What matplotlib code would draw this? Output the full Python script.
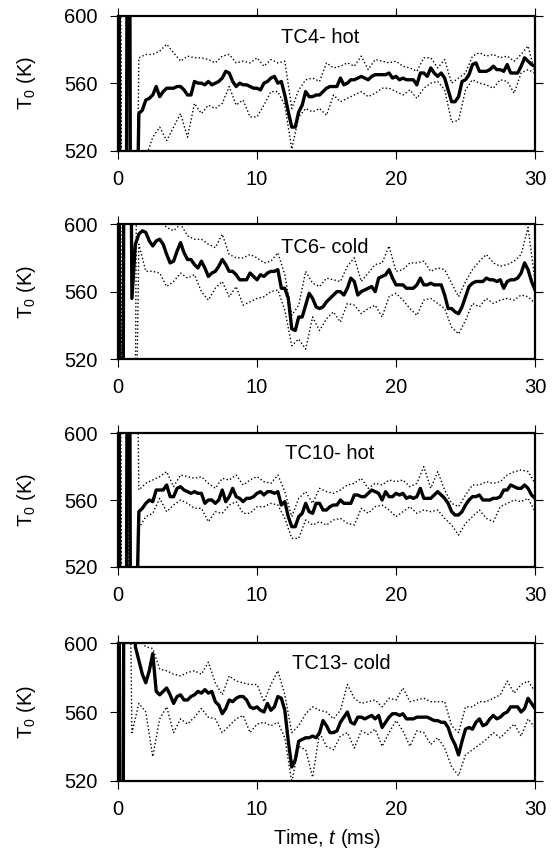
import matplotlib
matplotlib.use("Agg")
import matplotlib.pyplot as plt
import numpy as np

plt.rcParams['font.family'] = ['Liberation Sans', 'DejaVu Sans']
plt.rcParams['mathtext.fontset'] = 'custom'
plt.rcParams['mathtext.rm'] = 'Liberation Sans'
plt.rcParams['mathtext.it'] = 'Liberation Sans:italic'

# time grids (ms): mean sampled every 0.25 ms, band every 0.5 ms
time_mean = np.arange(0, 30.001, 0.25)
time_band = np.arange(0, 30.001, 0.5)

titles = ["TC4- hot", "TC6- cold", "TC10- hot", "TC13- cold"]

# mean stagnation temperature (K)
tc4_mean = [900, 100, 100, 1000, 100, 420, 542, 544,
            550, 551, 553, 558, 552, 555, 557, 557,
            557, 558, 558, 556, 553, 553, 561, 560,
            560, 559, 561, 559, 560, 561, 563, 567,
            566, 561, 558, 560, 559, 559, 558, 557,
            557, 556, 560, 561, 563, 564, 560, 561,
            553, 543, 534, 534, 543, 547, 555, 552,
            552, 553, 553, 555, 557, 558, 558, 558,
            563, 559, 560, 562, 562, 563, 564, 563,
            562, 564, 565, 565, 565, 565, 566, 563,
            564, 562, 563, 562, 562, 562, 559, 566,
            566, 564, 569, 566, 564, 566, 563, 556,
            549, 549, 552, 561, 562, 565, 571, 572,
            567, 567, 567, 568, 570, 568, 568, 567,
            571, 566, 566, 566, 570, 575, 573, 571,
            570]
tc6_mean = [900, 100, 900, 900, 556, 588, 594, 596,
            595, 590, 587, 590, 591, 588, 582, 577,
            578, 584, 589, 583, 579, 579, 576, 574,
            578, 574, 569, 571, 572, 575, 579, 576,
            572, 572, 570, 567, 567, 567, 571, 569,
            567, 570, 569, 571, 572, 572, 573, 562,
            562, 556, 538, 537, 545, 545, 552, 559,
            556, 551, 550, 551, 554, 556, 558, 560,
            560, 558, 562, 568, 566, 558, 560, 561,
            562, 563, 560, 568, 569, 570, 573, 568,
            564, 564, 564, 562, 562, 562, 564, 568,
            564, 564, 565, 564, 564, 564, 558, 550,
            550, 548, 547, 551, 557, 563, 565, 566,
            566, 566, 568, 567, 567, 566, 567, 562,
            566, 567, 567, 568, 571, 577, 573, 566,
            561]
tc10_mean = [900, 100, 100, 1000, 100, 460, 553, 555,
             558, 560, 559, 566, 566, 566, 569, 562,
             562, 567, 568, 566, 565, 564, 565, 564,
             564, 558, 560, 560, 558, 560, 566, 559,
             562, 567, 562, 561, 559, 561, 561, 562,
             564, 565, 563, 565, 565, 564, 565, 557,
             559, 550, 544, 544, 550, 552, 558, 553,
             552, 558, 558, 554, 554, 556, 557, 557,
             560, 558, 558, 558, 563, 563, 562, 562,
             564, 566, 565, 564, 560, 565, 562, 562,
             564, 563, 564, 561, 562, 561, 562, 567,
             561, 561, 561, 563, 565, 563, 561, 558,
             553, 551, 551, 553, 557, 560, 562, 562,
             563, 560, 560, 560, 561, 561, 562, 566,
             566, 569, 568, 567, 567, 569, 567, 563,
             561]
tc13_mean = [900, 100, 900, 900, 800, 598, 590, 582,
             577, 584, 594, 572, 570, 572, 574, 570,
             565, 569, 570, 567, 567, 569, 570, 572,
             571, 573, 571, 572, 566, 564, 559, 562,
             567, 566, 568, 569, 569, 567, 563, 562,
             563, 561, 560, 565, 561, 563, 569, 568,
             561, 543, 528, 532, 543, 544, 545, 545,
             546, 545, 548, 555, 552, 548, 548, 549,
             554, 557, 560, 554, 553, 557, 557, 556,
             557, 558, 556, 558, 551, 554, 557, 559,
             559, 558, 559, 556, 556, 556, 557, 557,
             557, 557, 556, 555, 555, 554, 554, 551,
             545, 541, 535, 543, 550, 551, 550, 554,
             556, 552, 553, 556, 558, 556, 557, 559,
             560, 563, 563, 563, 560, 562, 568, 565,
             562]

# upper / lower bounds (K)
tc4_upper = [900, 100, 200, 575, 577, 577, 579, 583, 578, 573, 576, 575,
             575, 574, 572, 576, 577, 572, 573, 572, 575, 570, 574, 572,
             573, 545, 556, 562, 563, 561, 572, 569, 570, 572, 570, 576,
             568, 574, 573, 572, 573, 570, 569, 567, 575, 575, 569, 574,
             560, 563, 566, 576, 578, 576, 577, 575, 576, 573, 577, 582,
             566]
tc4_lower = [900, 100, 200, 400, 516, 528, 534, 526, 534, 542, 528, 548,
             542, 547, 545, 548, 558, 547, 550, 540, 540, 547, 555, 555,
             547, 521, 540, 545, 543, 545, 541, 553, 549, 551, 553, 555,
             552, 554, 557, 557, 555, 553, 556, 551, 557, 560, 561, 556,
             537, 538, 556, 562, 560, 559, 557, 562, 561, 554, 566, 568,
             566]
tc6_upper = [900, 100, 100, 900, 605, 603, 602, 598, 596, 600, 593, 591,
             591, 588, 586, 594, 582, 580, 580, 582, 580, 577, 578, 583,
             570, 546, 552, 572, 565, 563, 568, 567, 566, 575, 580, 566,
             571, 576, 577, 587, 572, 573, 577, 577, 578, 572, 574, 573,
             565, 557, 566, 573, 578, 582, 577, 575, 576, 578, 582, 598,
             566]
tc6_lower = [900, 100, 300, 588, 572, 572, 571, 563, 566, 571, 568, 570,
             560, 555, 562, 566, 557, 563, 552, 554, 556, 557, 560, 561,
             549, 528, 532, 526, 545, 537, 544, 548, 542, 553, 552, 547,
             550, 552, 545, 557, 559, 555, 550, 546, 555, 556, 553, 550,
             539, 535, 543, 553, 551, 556, 553, 555, 556, 555, 558, 557,
             553]
tc10_upper = [900, 100, 900, 566, 570, 572, 574, 577, 568, 575, 574, 573,
              574, 570, 567, 573, 572, 575, 569, 572, 574, 571, 570, 575,
              565, 550, 561, 565, 558, 567, 565, 564, 566, 569, 570, 573,
              567, 570, 569, 572, 571, 572, 568, 570, 580, 567, 577, 566,
              558, 556, 563, 569, 569, 571, 570, 571, 575, 577, 578, 577,
              570]
tc10_lower = [900, 100, 100, 543, 550, 552, 561, 553, 557, 560, 558, 555,
              555, 547, 553, 552, 557, 559, 552, 552, 556, 556, 558, 557,
              549, 537, 537, 548, 545, 547, 545, 548, 549, 546, 545, 555,
              552, 556, 557, 554, 550, 553, 556, 552, 554, 553, 554, 549,
              545, 539, 546, 550, 554, 549, 547, 556, 558, 560, 559, 561,
              553]
tc13_upper = [900, 900, 900, 602, 598, 597, 585, 584, 582, 581, 583, 584,
              582, 589, 577, 570, 581, 578, 577, 576, 576, 566, 576, 584,
              570, 548, 552, 559, 563, 561, 560, 556, 561, 576, 568, 565,
              566, 567, 563, 568, 567, 574, 566, 567, 568, 566, 566, 566,
              552, 548, 563, 563, 566, 566, 568, 570, 578, 571, 576, 578,
              572]
tc13_lower = [900, 900, 548, 565, 560, 534, 556, 563, 548, 556, 553, 557,
              562, 557, 556, 548, 552, 556, 558, 548, 553, 554, 552, 554,
              545, 519, 540, 538, 522, 548, 540, 538, 546, 548, 539, 549,
              547, 550, 540, 548, 555, 549, 540, 549, 548, 541, 545, 539,
              528, 523, 535, 538, 541, 544, 548, 545, 549, 553, 546, 556,
              551]

means = [tc4_mean, tc6_mean, tc10_mean, tc13_mean]
uppers = [tc4_upper, tc6_upper, tc10_upper, tc13_upper]
lowers = [tc4_lower, tc6_lower, tc10_lower, tc13_lower]

fig = plt.figure(figsize=(5.59, 8.55), dpi=100)

boxes = [[0.2111, 0.8237, 0.746, 0.1581],
         [0.2111, 0.5798, 0.746, 0.1582],
         [0.2111, 0.3372, 0.746, 0.1560],
         [0.2111, 0.0869, 0.746, 0.1607]]
title_pos = [(0.486, 0.837), (0.495, 0.83), (0.507, 0.85), (0.535, 0.85)]

for i in range(4):
    ax = fig.add_axes(boxes[i])
    ax.plot(time_band, uppers[i], color='black', linestyle=':', lw=1.0)
    ax.plot(time_band, lowers[i], color='black', linestyle=':', lw=1.0)
    ax.plot(time_mean, means[i], color='black', lw=2.4)

    ax.set_xlim(0, 30)
    ax.set_ylim(520, 600)
    ax.set_xticks([0, 10, 20, 30])
    ax.set_yticks([520, 560, 600])
    ax.tick_params(direction='out', top=True, right=True, length=5.8,
                   width=0.8, labelsize=14.5)
    ax.tick_params(axis='y', pad=9)
    ax.tick_params(axis='x', pad=8)
    for sp in ax.spines.values():
        sp.set_linewidth(1.6)

    ax.set_ylabel(r'T$_{\mathrm{0}}$ (K)', fontsize=14.5)
    ax.yaxis.set_label_coords(-0.193, 0.5)
    ax.text(title_pos[i][0], title_pos[i][1], titles[i], transform=ax.transAxes,
            ha='center', va='center', fontsize=14.5)

    if i == 3:
        ax.set_xlabel(r'Time, $t$ (ms)', fontsize=14.5)
        ax.xaxis.set_label_coords(0.5, -0.34)

plt.savefig("out.png", dpi=100)
